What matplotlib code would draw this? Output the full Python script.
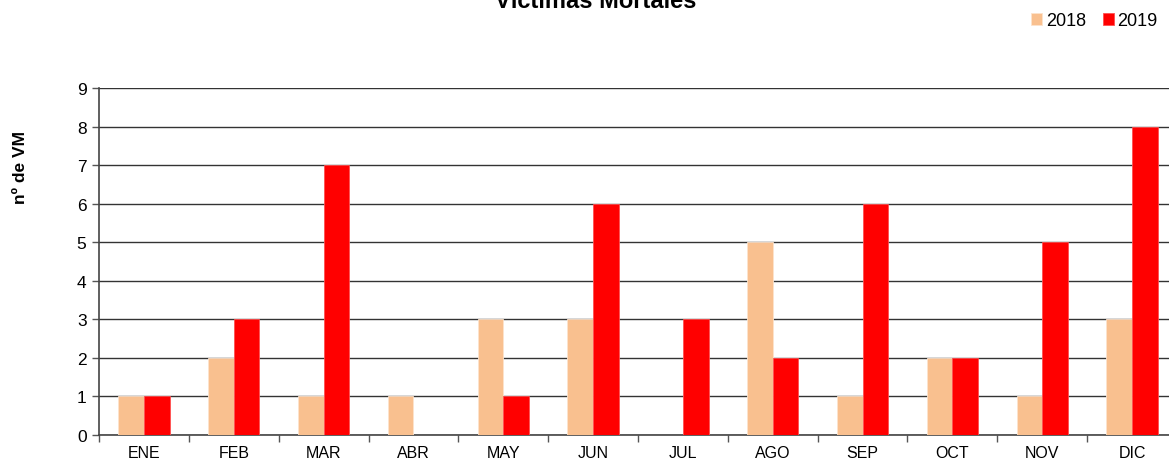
import matplotlib.pyplot as plt
import numpy as np

plt.rcParams['font.family'] = ['Liberation Sans', 'DejaVu Sans']

meses = ['ENE', 'FEB', 'MAR', 'ABR', 'MAY', 'JUN', 'JUL', 'AGO', 'SEP', 'OCT', 'NOV', 'DIC']
vm_2018 = [1, 2, 1, 1, 3, 3, 0, 5, 1, 2, 1, 3]
vm_2019 = [1, 3, 7, 0, 1, 6, 3, 2, 6, 2, 5, 8]

W, H = 1169, 464
fig = plt.figure(figsize=(W / 100, H / 100), dpi=100)
# axes run a little past the right edge of the figure
ax = fig.add_axes([99 / W, 28 / H, (1177 - 99) / W, 347 / H])

x = np.arange(len(meses))
w = 1 / 3.5
ax.bar(x - w / 2, vm_2018, w, color='#f9c08f', edgecolor='#fde3cc', linewidth=0.6, label='2018', zorder=3)
ax.bar(x + w / 2, vm_2019, w, color='#ff0000', edgecolor='#ff5050', linewidth=0.6, label='2019', zorder=3)

ax.set_xlim(-0.5, 11.5)
ax.set_ylim(0, 9)
ax.set_yticks(range(10))
ax.yaxis.grid(True, color='#333333', linewidth=1.0, zorder=0)
ax.set_axisbelow(True)

ax.set_xticks(np.arange(-0.5, 12, 1))
ax.set_xticklabels([])
ax.set_xticks(x, minor=True)
ax.set_xticklabels(meses, minor=True)
ax.tick_params(axis='x', which='minor', length=0, pad=7, labelsize=11.5)
ax.tick_params(axis='x', which='major', length=5, width=1, color='#555555', direction='out')
ax.tick_params(axis='y', length=5, width=1, color='#555555', labelsize=12.5, pad=4)

for s in ['top', 'right']:
    ax.spines[s].set_visible(False)
ax.spines['left'].set_color('#444444')
ax.spines['bottom'].set_color('#444444')
ax.spines['left'].set_linewidth(1.2)
ax.spines['bottom'].set_linewidth(1.2)

fig.text(596 / W, 1 - 8 / H, 'Víctimas Mortales', ha='center', va='baseline',
         fontsize=17, fontweight='bold')
fig.text(21 / W, 1 - 167 / H, 'nº de VM', rotation=90, ha='center', va='center',
         fontsize=12.5, fontweight='bold')

fig.legend(loc='center right', bbox_to_anchor=(1165 / W, 1 - 22 / H), ncol=2,
           frameon=False, fontsize=13, handlelength=0.6, handleheight=0.6,
           handletextpad=0.2, columnspacing=0.95, borderaxespad=0)

fig.savefig('out.png', dpi=100)
